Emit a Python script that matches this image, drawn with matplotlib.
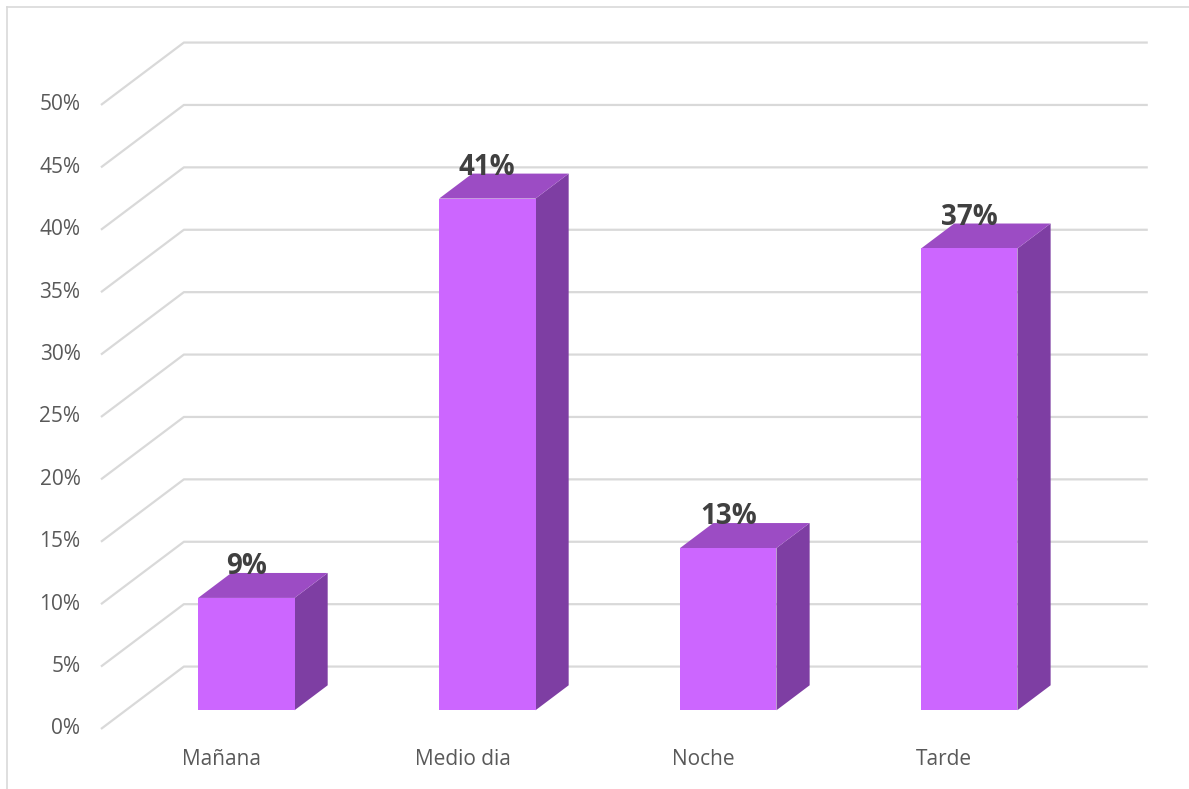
import numpy as np
import matplotlib.pyplot as plt
from matplotlib.patches import Polygon

# Data
categories = ["Mañana", "Medio dia", "Noche", "Tarde"]
values = [9, 41, 13, 37]  # percent
ticks = list(range(0, 55, 5))

# Oblique projection: depth d in [0, 1] shifts right and up
DEPTH_DX = 0.344   # in category units
DEPTH_DY = 5.0     # in percent units


def proj(x, y, d):
    return (x + d * DEPTH_DX, y + d * DEPTH_DY)


front_col = "#CC66FF"
top_col = "#9C4CC4"
side_col = "#7E3EA3"
grid_col = "#D9D9D9"
text_col = "#595959"

fig = plt.figure(figsize=(11.89, 7.89), dpi=100)
ax = fig.add_axes([0, 0, 1, 1])
ax.set_xlim(-0.419, 4.515)
ax.set_ylim(-4.81, 58.41)
ax.axis("off")

# Frame (top and left edges)
fig.add_artist(plt.Line2D([7 / 1189, 1], [1 - 7 / 789] * 2, color=grid_col, lw=1.2))
fig.add_artist(plt.Line2D([7 / 1189] * 2, [0, 1 - 7 / 789], color=grid_col, lw=1.2))

# Gridlines: diagonal on the side wall, then horizontal on the back wall
n = len(categories)
for t in ticks:
    x0, y0 = proj(0, t, 0)
    x1, y1 = proj(0, t, 1)
    x2, y2 = proj(n, t, 1)
    ax.plot([x0, x1, x2], [y0, y1, y2], color=grid_col, lw=1.6, zorder=1,
            solid_capstyle="butt")
    ax.text(x0 - 0.085, y0, f"{t}%", ha="right", va="center",
            fontsize=15, color=text_col, family="Open Sans")

# Bars
d0, d1 = 0.3, 0.7
for i, (cat, v) in enumerate(zip(categories, values)):
    xl, xr = i + 0.3, i + 0.7
    front = [proj(xl, 0, d0), proj(xr, 0, d0), proj(xr, v, d0), proj(xl, v, d0)]
    top = [proj(xl, v, d0), proj(xr, v, d0), proj(xr, v, d1), proj(xl, v, d1)]
    side = [proj(xr, 0, d0), proj(xr, 0, d1), proj(xr, v, d1), proj(xr, v, d0)]
    ax.add_patch(Polygon(side, closed=True, fc=side_col, ec="none", zorder=3))
    ax.add_patch(Polygon(top, closed=True, fc=top_col, ec="none", zorder=3))
    ax.add_patch(Polygon(front, closed=True, fc=front_col, ec="none", zorder=4))

    cx = (front[0][0] + front[1][0]) / 2
    ax.text(cx, front[2][1] + 2.5, f"{v}%", ha="center", va="center",
            fontsize=20, fontweight="bold", color="#404040",
            family="Open Sans", zorder=5)

    ax.text(i + 0.5, -2.45, cat, ha="center", va="center",
            fontsize=15, color=text_col, family="Open Sans")

fig.savefig("out.png", dpi=100)
